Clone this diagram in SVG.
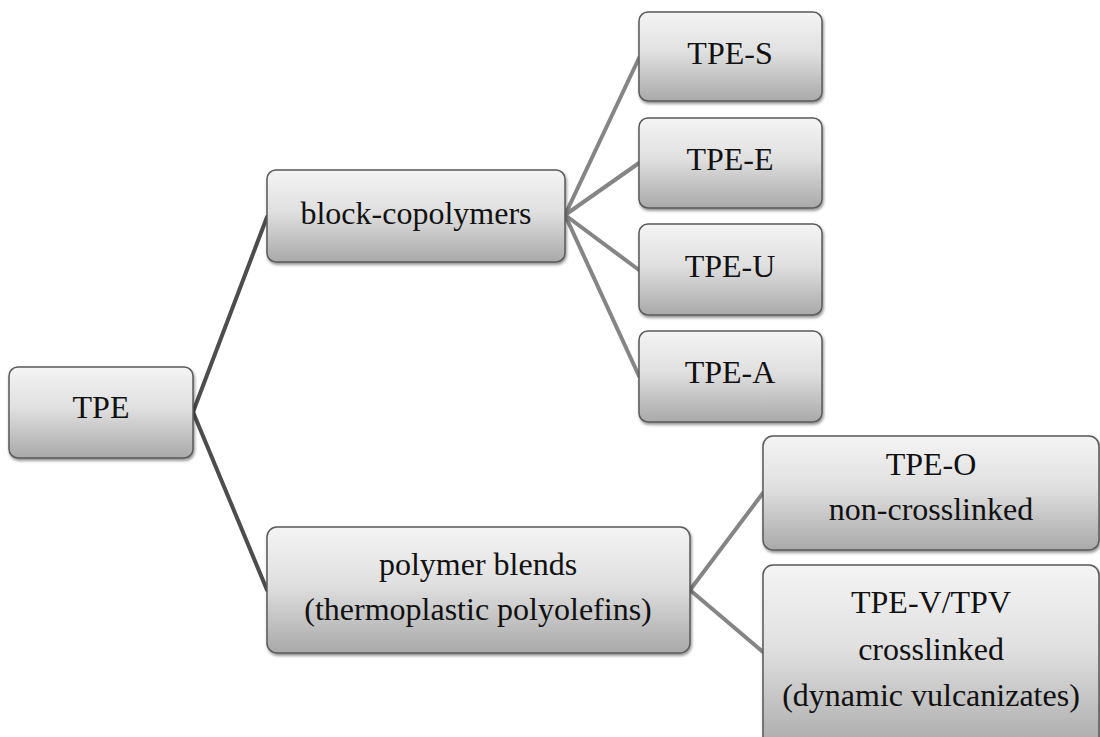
<svg xmlns="http://www.w3.org/2000/svg" width="1100" height="737" viewBox="0 0 1100 737">
  <defs>
    <linearGradient id="boxGrad" x1="0" y1="0" x2="0" y2="1">
      <stop offset="0" stop-color="#f4f4f4"/>
      <stop offset="0.45" stop-color="#e0e0e0"/>
      <stop offset="1" stop-color="#a9a9a9"/>
    </linearGradient>
    <filter id="shadow" x="-10%" y="-10%" width="120%" height="130%">
      <feDropShadow dx="1" dy="2" stdDeviation="1.5" flood-color="#000" flood-opacity="0.45"/>
    </filter>
  </defs>
  <style>
    .box { fill: url(#boxGrad); stroke: #5a5a5a; stroke-width: 1.5; filter: url(#shadow); }
    .lbl { font-family: 'Liberation Serif', 'DejaVu Serif', serif; font-size: 32px; fill: #111; text-anchor: middle; }
    .c1 { stroke: #4d4d4d; stroke-width: 4; fill: none; stroke-linecap: round; }
    .c2 { stroke: #858585; stroke-width: 4; fill: none; stroke-linecap: round; }
  </style>
  <rect width="1100" height="737" fill="#ffffff"/>

  <g id="connectors">
    <line class="c1" x1="193" y1="412" x2="267" y2="217"/>
    <line class="c1" x1="193" y1="412" x2="267" y2="590"/>
    <line class="c2" x1="565" y1="215" x2="639" y2="58"/>
    <line class="c2" x1="565" y1="215" x2="639" y2="163"/>
    <line class="c2" x1="565" y1="215" x2="639" y2="270"/>
    <line class="c2" x1="565" y1="215" x2="639" y2="376"/>
    <line class="c2" x1="690" y1="590" x2="763" y2="493"/>
    <line class="c2" x1="690" y1="590" x2="763" y2="652"/>
  </g>

  <g id="node-tpe">
    <rect class="box" x="9" y="367" width="184" height="91" rx="9"/>
    <text class="lbl" x="101" y="418" font-family="Liberation Serif, serif">TPE</text>
  </g>
  <g id="node-block">
    <rect class="box" x="267" y="170" width="298" height="92" rx="9"/>
    <text class="lbl" x="416" y="224">block-copolymers</text>
  </g>
  <g id="node-tpe-s">
    <rect class="box" x="639" y="12" width="183" height="89" rx="9"/>
    <text class="lbl" x="730" y="64">TPE-S</text>
  </g>
  <g id="node-tpe-e">
    <rect class="box" x="639" y="118" width="183" height="90" rx="9"/>
    <text class="lbl" x="730" y="170">TPE-E</text>
  </g>
  <g id="node-tpe-u">
    <rect class="box" x="639" y="224" width="183" height="91" rx="9"/>
    <text class="lbl" x="730" y="277">TPE-U</text>
  </g>
  <g id="node-tpe-a">
    <rect class="box" x="639" y="331" width="183" height="91" rx="9"/>
    <text class="lbl" x="730" y="383">TPE-A</text>
  </g>
  <g id="node-blends">
    <rect class="box" x="267" y="527" width="423" height="126" rx="10"/>
    <text class="lbl" x="478" y="575">polymer blends</text>
    <text class="lbl" x="478" y="620">(thermoplastic polyolefins)</text>
  </g>
  <g id="node-tpe-o">
    <rect class="box" x="763" y="436" width="336" height="114" rx="10"/>
    <text class="lbl" x="931" y="475">TPE-O</text>
    <text class="lbl" x="931" y="520">non-crosslinked</text>
  </g>
  <g id="node-tpe-v">
    <rect class="box" x="763" y="565" width="336" height="185" rx="10"/>
    <text class="lbl" x="931" y="613">TPE-V/TPV</text>
    <text class="lbl" x="931" y="660">crosslinked</text>
    <text class="lbl" x="931" y="706">(dynamic vulcanizates)</text>
  </g>
</svg>
